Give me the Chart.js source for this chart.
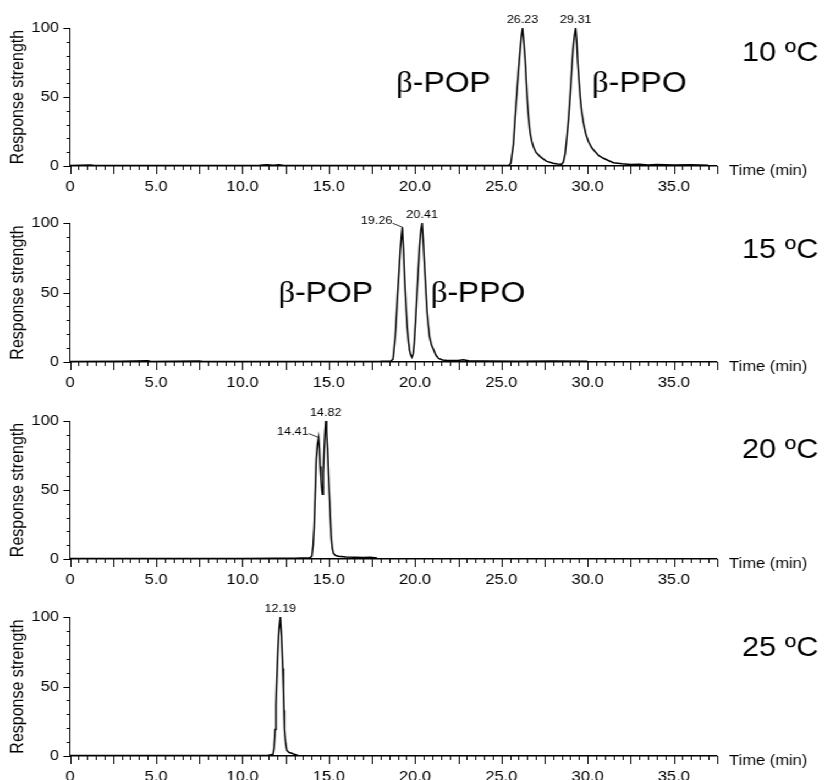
<!DOCTYPE html>
<html>
<head>
<meta charset="utf-8">
<script src="https://cdn.jsdelivr.net/npm/chart.js@4.4.0/dist/chart.umd.min.js"></script>
<style>
  body { margin: 0; background: #fff; }
  #wrap { position: relative; width: 753px; height: 780px; transform: scaleX(1.1); transform-origin: 0 0; }
  #wrap canvas { position: absolute; left: 0; }
</style>
</head>
<body>
<div id="wrap">
  <canvas id="c10" width="753" height="190"></canvas>
  <canvas id="c15" width="753" height="190"></canvas>
  <canvas id="c20" width="753" height="190"></canvas>
  <canvas id="c25" width="753" height="190"></canvas>
</div>
<script>
// retention time (min) / response (%) at each crystallisation temperature
const time10 = [0, 1.2, 1.4, 5, 11.0, 11.4, 11.8, 12.1, 12.4, 20, 25.0, 25.45, 25.55, 25.70, 25.80, 25.90, 26.00, 26.09, 26.16, 26.23,
  26.30, 26.38, 26.45, 26.53, 26.60, 26.67, 26.76, 26.86, 27.0, 27.25, 27.6, 28.0, 28.25, 28.5, 28.6, 28.7, 28.8, 28.9, 29.0,
  29.08, 29.15, 29.23, 29.31, 29.37, 29.42, 29.5, 29.57, 29.65, 29.76, 29.9, 30.05, 30.25, 30.44, 30.65, 30.92, 31.2, 31.5,
  32.0, 32.5, 33.0, 33.5, 34, 35, 36, 37];
const resp10 = [0.3, 0.8, 0.3, 0.3, 0.5, 0.9, 0.6, 0.9, 0.3, 0.3, 0.4, 0.6, 2, 16, 35, 53, 70, 84, 94, 100,
  90, 77, 60, 43, 32, 24, 18, 14, 10, 6.8, 3.5, 2, 1.4, 1.3, 3, 9, 21, 35, 53,
  70, 84, 94, 100, 90, 77, 62, 50, 40, 31, 23, 17.6, 13, 10.4, 7.5, 5.6, 4, 2.4,
  1.6, 1.0, 1.2, 0.8, 1.0, 0.7, 0.9, 0.6];

const time15 = [0, 3.0, 4.5, 4.7, 7.5, 7.7, 12, 18.0, 18.6, 18.72, 18.85, 18.92, 18.99, 19.07, 19.14, 19.21, 19.26, 19.33, 19.39,
  19.46, 19.53, 19.6, 19.68, 19.75, 19.82, 19.89, 19.95, 20.03, 20.11, 20.19, 20.26, 20.34, 20.41, 20.47, 20.53, 20.61, 20.69,
  20.77, 20.84, 20.96, 21.08, 21.2, 21.36, 21.6, 21.85, 22.5, 22.8, 23.1, 24, 26, 28, 30];
const resp15 = [0.3, 0.5, 0.9, 0.4, 0.8, 0.3, 0.4, 0.5, 0.8, 2, 18, 33, 49, 65, 80, 91, 97, 80, 61,
  44, 28, 17, 8.6, 5, 3.4, 6, 13.5, 30, 49, 67, 83, 95, 100, 88, 73, 55, 37,
  26, 18, 12, 8.6, 5, 2.6, 1.5, 1.0, 1.0, 1.6, 0.9, 0.8, 0.6, 0.8, 0.5];

const time20 = [0, 5, 10, 12, 13.0, 13.4, 13.9, 14.02, 14.09, 14.15, 14.21, 14.27, 14.34, 14.41, 14.46, 14.50, 14.55, 14.60, 14.63,
  14.68, 14.73, 14.78, 14.82, 14.87, 14.93, 14.98, 15.04, 15.09, 15.14, 15.2, 15.27, 15.4, 15.56, 16, 16.5, 17, 17.4, 17.8];
const resp20 = [0.3, 0.4, 0.3, 0.5, 0.6, 0.8, 0.8, 2, 10, 23, 47, 72, 83, 88, 80, 67, 58, 50, 47,
  62, 79, 92, 100, 92, 79, 62, 45, 30, 16, 8, 4, 2.5, 2, 1.5, 1.2, 1, 1.2, 0.8];

const time25 = [0, 5, 10, 11.5, 11.76, 11.83, 11.89, 11.94, 11.99, 12.06, 12.12, 12.19, 12.24, 12.28, 12.33, 12.37, 12.40, 12.43,
  12.5, 12.57, 12.7, 12.86, 13.0, 13.2];
const resp25 = [0.3, 0.3, 0.4, 0.5, 1, 6, 19, 37, 55, 79, 92, 100, 90, 79, 63, 47, 33, 19,
  9, 4, 2.5, 2, 1.2, 0.6];

const xTicks = [0, 5, 10, 15, 20, 25, 30, 35];
const yTicks = [0, 50, 100];
const temps = ['10 ºC', '15 ºC', '20 ºC', '25 ºC'];

const W = 753, H = 190;
const plotLeft = 63.6, plotRight = 651.8;
const sans = '"Liberation Sans", Arial, sans-serif';

const panels = [
  { id: 'c10', top: 8, plotH: 138, time: time10, resp: resp10, temp: temps[0], tempY: 45,
    peaks: [[26.23, 'top'], [29.31, 'top']],
    names: [['-POP', 18.9, 53.6], ['-PPO', 30.25, 53.6]] },
  { id: 'c15', top: 203, plotH: 139, time: time15, resp: resp15, temp: temps[1], tempY: 47,
    peaks: [[19.26, 'left'], [20.41, 'top']],
    names: [['-POP', 12.07, 43], ['-PPO', 20.9, 43]] },
  { id: 'c20', top: 401, plotH: 138, time: time20, resp: resp20, temp: temps[2], tempY: 49,
    peaks: [[14.41, 'left'], [14.82, 'top']], names: [] },
  { id: 'c25', top: 597, plotH: 139, time: time25, resp: resp25, temp: temps[3], tempY: 51,
    peaks: [[12.19, 'top']], names: [] }
];

// axis tick marks, peak times, compound names and temperature
function panelText(p) {
  return {
    id: 'panelText',
    afterDraw(chart) {
      const { ctx, scales: { x, y } } = chart;
      const y0 = y.getPixelForValue(0);
      const xl = x.getPixelForValue(0);
      ctx.save();
      ctx.strokeStyle = '#000';
      ctx.fillStyle = '#000';
      ctx.lineWidth = 1;
      ctx.beginPath();
      for (let i = 0; i <= 75; i++) {
        const px = Math.round(x.getPixelForValue(i * 0.5)) + 0.5;
        ctx.moveTo(px, y0);
        ctx.lineTo(px, y0 + (i % 5 === 0 ? 8 : 4));
      }
      for (let v = 0; v <= 100; v += 10) {
        const py = Math.round(y.getPixelForValue(v)) + 0.5;
        ctx.moveTo(xl, py);
        ctx.lineTo(xl - (v % 50 === 0 ? 6 : 3), py);
      }
      ctx.stroke();

      ctx.font = '11.5px ' + sans;
      ctx.lineWidth = 0.8;
      p.peaks.forEach(([t, side]) => {
        const i = p.time.indexOf(t);
        const px = x.getPixelForValue(t), py = y.getPixelForValue(p.resp[i]);
        const txt = t.toFixed(2);
        ctx.textBaseline = 'middle';
        if (side === 'top') {
          ctx.textAlign = 'center';
          ctx.fillText(txt, px, py - 8);
        } else {
          ctx.textAlign = 'right';
          ctx.fillText(txt, px - 9, py - 6);
          ctx.beginPath();
          ctx.moveTo(px - 9, py - 4);
          ctx.lineTo(px, py);
          ctx.stroke();
        }
      });

      ctx.textAlign = 'left';
      ctx.textBaseline = 'alphabetic';
      p.names.forEach(([name, t, v]) => {
        const px = x.getPixelForValue(t), py = y.getPixelForValue(v);
        ctx.font = '30px "Liberation Serif", serif';
        ctx.fillText('β', px, py);
        const bw = ctx.measureText('β').width;
        ctx.font = '29px ' + sans;
        ctx.fillText(name, px + bw, py);
      });

      ctx.textBaseline = 'middle';
      ctx.font = '15px ' + sans;
      ctx.fillText('Time (min)', x.right + 11, y0 + 5);
      ctx.font = '28px ' + sans;
      ctx.fillText(p.temp, 674.5, p.tempY);
      ctx.restore();
    }
  };
}

panels.forEach(p => {
  const canvas = document.getElementById(p.id);
  canvas.style.top = p.top + 'px';
  new Chart(canvas, {
    type: 'line',
    data: {
      datasets: [{
        data: p.time.map((t, i) => ({ x: t, y: p.resp[i] })),
        borderColor: '#000',
        borderWidth: 1.5,
        pointRadius: 0,
        tension: 0,
        fill: false
      }]
    },
    options: {
      responsive: false,
      animation: false,
      layout: { padding: { top: 20, right: W - plotRight, left: 0, bottom: 0 } },
      plugins: { legend: { display: false }, tooltip: { enabled: false } },
      scales: {
        x: {
          type: 'linear', min: 0, max: 37.5,
          afterBuildTicks: s => { s.ticks = xTicks.map(v => ({ value: v })); },
          afterFit: s => { s.height = H - 20 - p.plotH; },
          grid: { display: false, drawTicks: false },
          border: { display: true, color: '#000', width: 1.5 },
          ticks: {
            padding: 12, color: '#000', maxRotation: 0, autoSkip: false,
            font: { family: sans, size: 15 },
            callback: v => v === 0 ? '0' : v.toFixed(1)
          }
        },
        y: {
          min: 0, max: 100,
          afterBuildTicks: s => { s.ticks = yTicks.map(v => ({ value: v })); },
          afterFit: s => { s.width = plotLeft; },
          grid: { display: false, drawTicks: false },
          border: { display: true, color: '#000', width: 1 },
          ticks: { padding: 10, color: '#000', font: { family: sans, size: 15 } },
          title: {
            display: true, text: 'Response strength', color: '#000',
            font: { family: sans, size: 16 }, padding: { top: 7, bottom: 0 }
          }
        }
      }
    },
    plugins: [panelText(p)]
  });
});
</script>
</body>
</html>
